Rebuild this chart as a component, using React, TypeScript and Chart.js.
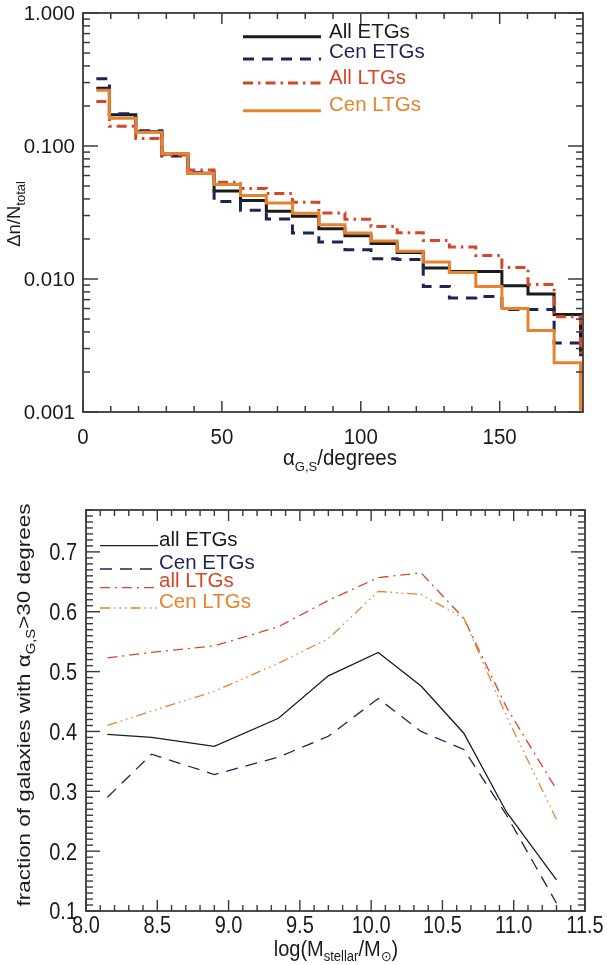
import React, { useEffect, useRef } from 'react';
import { Chart, registerables } from 'chart.js';

Chart.register(...registerables);

const FONT = '"Liberation Sans", Arial, Helvetica, sans-serif';
const BLACK = '#1b1b1b';
const NAVY = '#1f2355';
const RED = '#d5472a';
const ORANGE = '#e8822e';
const AXIS = '#3a3a3a';

// ---------- Top panel: histogram of alpha_G,S ----------
const binEdges = [4.8, 9.5, 19.0, 28.4, 37.8, 47.2, 56.7, 66.0, 75.4, 84.9, 94.3, 103.7, 113.1, 122.5, 131.9, 141.4, 150.8, 160.2, 169.6, 179.1];
const allETGsHist = [0.272, 0.172, 0.128, 0.087, 0.0623, 0.0459, 0.039, 0.0323, 0.0296, 0.0239, 0.0211, 0.0185, 0.0158, 0.0121, 0.0114, 0.0114, 0.0089, 0.0077, 0.0054, 0.0029];
const cenETGsHist = [0.321, 0.175, 0.130, 0.084, 0.063, 0.0382, 0.0329, 0.0283, 0.0222, 0.019, 0.0166, 0.0142, 0.014, 0.0088, 0.0072, 0.0074, 0.0059, 0.0059, 0.0033, 0.0027];
const allLTGsHist = [0.216, 0.141, 0.114, 0.0856, 0.066, 0.0533, 0.048, 0.0439, 0.0377, 0.0314, 0.0281, 0.0248, 0.0223, 0.0195, 0.0174, 0.015, 0.0122, 0.0091, 0.0052, 0.0028];
const cenLTGsHist = [0.262, 0.162, 0.127, 0.088, 0.062, 0.0513, 0.0424, 0.0373, 0.0312, 0.0256, 0.0222, 0.0193, 0.0162, 0.0134, 0.0112, 0.0088, 0.006, 0.0041, 0.00235, 0.00105];
const topXMin = 0;
const topXMax = 180;
const topYMin = 0.001;
const topYMax = 1;
const topXMajor = [0, 50, 100, 150];
const topXMajorLabels = ['0', '50', '100', '150'];
const topXMinor = [10, 20, 30, 40, 60, 70, 80, 90, 110, 120, 130, 140, 160, 170];
const topYMajor = [0.001, 0.01, 0.1, 1];
const topYMajorLabels = ['0.001', '0.010', '0.100', '1.000'];
const topYMinorMultipliers = [2, 3, 4, 5, 6, 7, 8, 9];
const topLegendLabels = ['All ETGs', 'Cen ETGs', 'All LTGs', 'Cen LTGs'];

// ---------- Bottom panel: fraction vs stellar mass ----------
const massBins = [8.15, 8.46, 8.9, 9.35, 9.7, 10.05, 10.35, 10.65, 10.95, 11.3];
const allETGsFrac = [0.395, 0.390, 0.375, 0.422, 0.493, 0.532, 0.476, 0.397, 0.265, 0.152];
const cenETGsFrac = [0.290, 0.362, 0.328, 0.357, 0.392, 0.455, 0.400, 0.370, 0.260, 0.113];
const allLTGsFrac = [0.523, 0.532, 0.543, 0.575, 0.619, 0.657, 0.665, 0.589, 0.440, 0.303];
const cenLTGsFrac = [0.410, 0.434, 0.467, 0.514, 0.555, 0.634, 0.629, 0.589, 0.425, 0.253];
const botXMin = 8.0;
const botXMax = 11.5;
const botYMin = 0.1;
const botYMax = 0.77;
const botXMajor = [8.0, 8.5, 9.0, 9.5, 10.0, 10.5, 11.0, 11.5];
const botXMajorLabels = ['8.0', '8.5', '9.0', '9.5', '10.0', '10.5', '11.0', '11.5'];
const botYMajor = [0.1, 0.2, 0.3, 0.4, 0.5, 0.6, 0.7];
const botYMajorLabels = ['0.1', '0.2', '0.3', '0.4', '0.5', '0.6', '0.7'];
const botLegendLabels = ['all ETGs', 'Cen ETGs', 'all LTGs', 'Cen LTGs'];

type Part = { t: string; sub?: boolean };
type TextOpts = {
  size: number; subSize?: number; sx?: number; sy?: number;
  align?: 'left' | 'center' | 'right'; middle?: boolean; color: string; rot?: number; subDrop?: number;
};

function drawRich(ctx: CanvasRenderingContext2D, parts: Part[], x: number, y: number, o: TextOpts) {
  const subSize = o.subSize ?? Math.round(o.size * 0.62);
  ctx.save();
  ctx.translate(x, y);
  if (o.rot) ctx.rotate(o.rot);
  ctx.scale(o.sx ?? 1, o.sy ?? 1);
  ctx.textBaseline = 'alphabetic';
  ctx.textAlign = 'left';
  ctx.fillStyle = o.color;
  let w = 0;
  const widths: number[] = [];
  for (const p of parts) {
    ctx.font = `${p.sub ? subSize : o.size}px ${FONT}`;
    const m = ctx.measureText(p.t).width;
    widths.push(m);
    w += m;
  }
  let cx = o.align === 'center' ? -w / 2 : o.align === 'right' ? -w : 0;
  const dy = o.middle ? (o.size * 0.716) / 2 : 0;
  parts.forEach((p, i) => {
    ctx.font = `${p.sub ? subSize : o.size}px ${FONT}`;
    ctx.fillText(p.t, cx, dy + (p.sub ? o.size * (o.subDrop ?? 0.28) : 0));
    cx += widths[i];
  });
  ctx.restore();
}

function line(ctx: CanvasRenderingContext2D, x1: number, y1: number, x2: number, y2: number) {
  ctx.beginPath();
  ctx.moveTo(x1, y1);
  ctx.lineTo(x2, y2);
  ctx.stroke();
}

type LegendItem = { label: string; color: string; dash: number[]; width: number };

const topLegend: LegendItem[] = [
  { label: topLegendLabels[0], color: BLACK, dash: [], width: 3 },
  { label: topLegendLabels[1], color: NAVY, dash: [11, 8], width: 3 },
  { label: topLegendLabels[2], color: RED, dash: [10, 5, 2.5, 5], width: 3 },
  { label: topLegendLabels[3], color: ORANGE, dash: [], width: 3 },
];
const botLegend: LegendItem[] = [
  { label: botLegendLabels[0], color: BLACK, dash: [], width: 1.3 },
  { label: botLegendLabels[1], color: NAVY, dash: [12, 8], width: 1.3 },
  { label: botLegendLabels[2], color: RED, dash: [10, 5, 2, 5], width: 1.3 },
  { label: botLegendLabels[3], color: ORANGE, dash: [10, 4, 1.5, 4, 1.5, 4, 1.5, 4], width: 1.3 },
];

const topPanelPlugin = {
  id: 'topPanel',
  afterDraw(chart: any) {
    const ctx: CanvasRenderingContext2D = chart.ctx;
    const a = chart.chartArea;
    const xs = chart.scales.x;
    const ys = chart.scales.y;
    ctx.save();
    ctx.strokeStyle = AXIS;
    ctx.lineWidth = 1.5;
    ctx.setLineDash([]);
    for (const v of topXMinor) {
      const px = xs.getPixelForValue(v);
      line(ctx, px, a.bottom, px, a.bottom - 6);
      line(ctx, px, a.top, px, a.top + 6);
    }
    for (const v of topXMajor) {
      const px = xs.getPixelForValue(v);
      line(ctx, px, a.bottom, px, a.bottom - 11);
      line(ctx, px, a.top, px, a.top + 11);
    }
    for (let d = 0; d < topYMajor.length; d++) {
      const base = topYMajor[d];
      const py = ys.getPixelForValue(base);
      line(ctx, a.left, py, a.left + 15, py);
      line(ctx, a.right, py, a.right - 15, py);
      if (d < topYMajor.length - 1) {
        for (const m of topYMinorMultipliers) {
          const pm = ys.getPixelForValue(base * m);
          line(ctx, a.left, pm, a.left + 7, pm);
          line(ctx, a.right, pm, a.right - 7, pm);
        }
      }
    }
    ctx.lineWidth = 1.8;
    ctx.strokeRect(a.left, a.top, a.right - a.left, a.bottom - a.top);
    ctx.restore();

    topXMajor.forEach((v, i) => {
      drawRich(ctx, [{ t: topXMajorLabels[i] }], xs.getPixelForValue(v), 436, {
        size: 20.5, sy: 1.05, align: 'center', middle: true, color: BLACK,
      });
    });
    topYMajor.forEach((v, i) => {
      drawRich(ctx, [{ t: topYMajorLabels[i] }], a.left - 8, ys.getPixelForValue(v), {
        size: 20.5, sy: 1.0, align: 'right', middle: true, color: BLACK,
      });
    });
    drawRich(ctx, [{ t: 'α' }, { t: 'G,S', sub: true }, { t: '/degrees' }], 340, 465, {
      size: 20.5, subSize: 13, sy: 1.05, align: 'center', color: BLACK,
    });
    drawRich(ctx, [{ t: 'Δn/N' }, { t: 'total', sub: true }], 13.5, 214, {
      size: 18.5, subSize: 13, sx: 1.0, align: 'center', middle: true, color: BLACK, rot: -Math.PI / 2,
    });

    const lineY = [36.7, 59, 83, 110.7];
    const textY = [37.5, 58, 84, 110.5];
    topLegend.forEach((it, i) => {
      ctx.save();
      ctx.strokeStyle = it.color;
      ctx.lineWidth = it.width;
      ctx.setLineDash(it.dash);
      line(ctx, 243, lineY[i], 321, lineY[i]);
      ctx.restore();
      drawRich(ctx, [{ t: it.label }], 329, textY[i], { size: 20.5, color: it.color });
    });
  },
};

const botPanelPlugin = {
  id: 'botPanel',
  afterDraw(chart: any) {
    const ctx: CanvasRenderingContext2D = chart.ctx;
    const a = chart.chartArea;
    const xs = chart.scales.x;
    const ys = chart.scales.y;
    ctx.save();
    ctx.strokeStyle = AXIS;
    ctx.lineWidth = 1.4;
    ctx.setLineDash([]);
    for (let k = 0; k <= Math.round((botXMax - botXMin) * 10); k++) {
      const v = botXMin + k * 0.1;
      const major = k % 5 === 0;
      const len = major ? 11 : 6;
      const px = xs.getPixelForValue(v);
      line(ctx, px, a.bottom, px, a.bottom - len);
      line(ctx, px, a.top, px, a.top + len);
    }
    for (let k = 0; k <= Math.round((botYMax - botYMin) * 100); k++) {
      const v = botYMin + k * 0.01;
      const major = k % 10 === 0;
      const len = major ? 14 : 7;
      const py = ys.getPixelForValue(v);
      line(ctx, a.left, py, a.left + len, py);
      line(ctx, a.right, py, a.right - len, py);
    }
    ctx.lineWidth = 1.8;
    ctx.strokeRect(a.left, a.top, a.right - a.left, a.bottom - a.top);
    ctx.restore();

    botXMajor.forEach((v, i) => {
      drawRich(ctx, [{ t: botXMajorLabels[i] }], xs.getPixelForValue(v), 445, {
        size: 20, sy: 1.18, align: 'center', middle: true, color: BLACK,
      });
    });
    botYMajor.forEach((v, i) => {
      drawRich(ctx, [{ t: botYMajorLabels[i] }], a.left - 9, ys.getPixelForValue(v), {
        size: 20, sy: 1.18, align: 'right', middle: true, color: BLACK,
      });
    });
    drawRich(ctx, [{ t: 'log(M' }, { t: 'stellar', sub: true }, { t: '/M' }, { t: '⊙', sub: true }, { t: ')' }], 336, 476, {
      size: 20, subSize: 13, sy: 1.1, subDrop: 0.22, align: 'center', color: BLACK,
    });
    drawRich(ctx, [{ t: 'fraction of galaxies with α' }, { t: 'G,S', sub: true }, { t: '>30 degrees' }], 23, 225, {
      size: 19, subSize: 12.5, sx: 1.18, align: 'center', middle: true, color: BLACK, rot: -Math.PI / 2,
    });

    const lineY = [65.7, 89, 107.7, 128];
    const textY = [65.5, 89, 107.3, 128.3];
    botLegend.forEach((it, i) => {
      ctx.save();
      ctx.strokeStyle = it.color;
      ctx.lineWidth = it.width;
      ctx.setLineDash(it.dash);
      line(ctx, 100, lineY[i], 158, lineY[i]);
      ctx.restore();
      drawRich(ctx, [{ t: it.label }], 159, textY[i], { size: 20.5, color: it.color });
    });
  },
};

function histPoints(vals: number[]) {
  const pts = binEdges.map((x, i) => ({ x, y: vals[i] }));
  pts.push({ x: topXMax, y: vals[vals.length - 1] });
  return pts;
}

function linePoints(vals: number[]) {
  return massBins.map((x, i) => ({ x, y: vals[i] }));
}

export default function App() {
  const topRef = useRef<HTMLCanvasElement | null>(null);
  const botRef = useRef<HTMLCanvasElement | null>(null);

  useEffect(() => {
    const topDs = [
      { data: histPoints(allETGsHist), borderColor: BLACK, borderDash: [], order: 4 },
      { data: histPoints(cenETGsHist), borderColor: NAVY, borderDash: [11, 8], order: 3 },
      { data: histPoints(allLTGsHist), borderColor: RED, borderDash: [10, 5, 2.5, 5], order: 2 },
      { data: histPoints(cenLTGsHist), borderColor: ORANGE, borderDash: [], order: 1 },
    ].map((d, i) => ({
      ...d, label: topLegendLabels[i], stepped: 'before' as const, borderWidth: 3, pointRadius: 0, fill: false, tension: 0,
    }));

    const top = new Chart(topRef.current!, {
      type: 'line',
      data: { datasets: topDs as any },
      options: {
        responsive: false,
        animation: false,
        devicePixelRatio: 1,
        layout: { padding: { left: 83, right: 24, top: 13, bottom: 68 } },
        plugins: { legend: { display: false }, tooltip: { enabled: false } },
        scales: {
          x: { type: 'linear', min: topXMin, max: topXMax, display: false },
          y: { type: 'logarithmic', min: topYMin, max: topYMax, display: false },
        },
      },
      plugins: [topPanelPlugin],
    });

    const botDs = [
      { data: linePoints(allETGsFrac), borderColor: BLACK, borderDash: [], order: 4 },
      { data: linePoints(cenETGsFrac), borderColor: NAVY, borderDash: [12, 8], order: 3 },
      { data: linePoints(allLTGsFrac), borderColor: RED, borderDash: [10, 5, 2, 5], order: 2 },
      { data: linePoints(cenLTGsFrac), borderColor: ORANGE, borderDash: [10, 4, 1.5, 4, 1.5, 4, 1.5, 4], order: 1 },
    ].map((d, i) => ({
      ...d, label: botLegendLabels[i], borderWidth: 1.3, pointRadius: 0, fill: false, tension: 0,
    }));

    const bot = new Chart(botRef.current!, {
      type: 'line',
      data: { datasets: botDs as any },
      options: {
        responsive: false,
        animation: false,
        devicePixelRatio: 1,
        layout: { padding: { left: 86, right: 22, top: 30, bottom: 54 } },
        plugins: { legend: { display: false }, tooltip: { enabled: false } },
        scales: {
          x: { type: 'linear', min: botXMin, max: botXMax, display: false },
          y: { type: 'linear', min: botYMin, max: botYMax, display: false },
        },
      },
      plugins: [botPanelPlugin],
    });

    return () => {
      top.destroy();
      bot.destroy();
    };
  }, []);

  return (
    <div style={{ position: 'absolute', left: 0, top: 0, width: 607, height: 965, background: '#fff' }}>
      <canvas ref={topRef} width={607} height={480} style={{ position: 'absolute', left: 0, top: 0, width: 607, height: 480 }} />
      <canvas ref={botRef} width={607} height={485} style={{ position: 'absolute', left: 0, top: 480, width: 607, height: 485 }} />
    </div>
  );
}
